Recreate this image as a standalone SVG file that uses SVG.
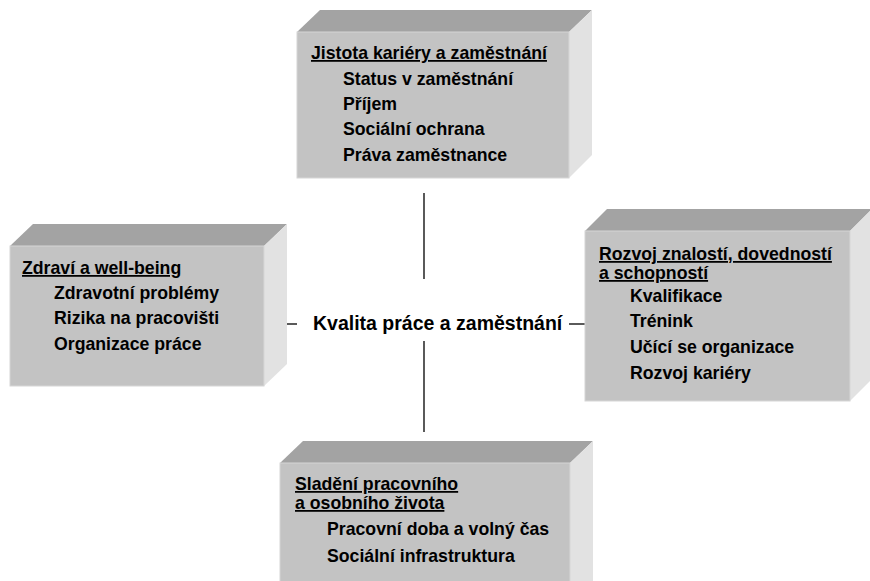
<svg xmlns="http://www.w3.org/2000/svg" width="870" height="581" viewBox="0 0 870 581">
<style>
.top{fill:#a3a3a3}
.side{fill:#e2e2e2}
.front{fill:#c3c3c3;stroke:#d6d6d6;stroke-width:1}
text{font-family:"Liberation Sans",Arial,sans-serif;font-weight:bold;font-size:17.7px;fill:#000}
.t{text-decoration:underline}
.c{font-size:19.5px}
.ln{stroke:#000;stroke-width:1.3;fill:none}
</style>
<rect width="870" height="581" fill="#fff"/>
<g id="connectors">
<line class="ln" x1="424" y1="193" x2="424" y2="279"/>
<line class="ln" x1="424" y1="341" x2="424" y2="432"/>
<line class="ln" x1="280" y1="324" x2="297" y2="324"/>
<line class="ln" x1="569" y1="324" x2="585" y2="324"/>
</g>
<g id="top-box">
<polygon class="top" points="297,32 320,10 592,10 569,32"/>
<polygon class="side" points="569,32 592,10 592,155 569,178"/>
<rect class="front" x="297" y="32" width="272" height="146"/>
<text class="t" x="311" y="59">Jistota kariéry a zaměstnání</text>
<text x="343" y="85">Status v zaměstnání</text>
<text x="343" y="110">Příjem</text>
<text x="343" y="135">Sociální ochrana</text>
<text x="343" y="161">Práva zaměstnance</text>
</g>
<g id="left-box">
<polygon class="top" points="10,246 33,224 287,224 264,246"/>
<polygon class="side" points="264,246 287,224 287,364 264,386"/>
<rect class="front" x="10" y="246" width="254" height="140"/>
<text class="t" x="22" y="274">Zdraví a well-being</text>
<text x="54" y="299">Zdravotní problémy</text>
<text x="54" y="324">Rizika na pracovišti</text>
<text x="54" y="350">Organizace práce</text>
</g>
<g id="right-box">
<polygon class="top" points="585,231 607,209 872,209 850,231"/>
<polygon class="side" points="850,231 872,209 872,379 850,401"/>
<rect class="front" x="585" y="231" width="265" height="170"/>
<text class="t" x="599" y="260">Rozvoj znalostí, dovedností</text>
<text class="t" x="599" y="279">a schopností</text>
<text x="630" y="302">Kvalifikace</text>
<text x="630" y="327">Trénink</text>
<text x="630" y="353">Učící se organizace</text>
<text x="630" y="379">Rozvoj kariéry</text>
</g>
<g id="bottom-box">
<polygon class="top" points="280,463 303,441 593,441 570,463"/>
<polygon class="side" points="570,463 593,441 593,598 570,620"/>
<rect class="front" x="280" y="463" width="290" height="157"/>
<text class="t" x="295" y="490">Sladění pracovního</text>
<text class="t" x="295" y="509">a osobního života</text>
<text x="327" y="535">Pracovní doba a volný čas</text>
<text x="327" y="562">Sociální infrastruktura</text>
</g>
<g id="center">
<text class="c" x="313" y="330">Kvalita práce a zaměstnání</text>
</g>
</svg>
